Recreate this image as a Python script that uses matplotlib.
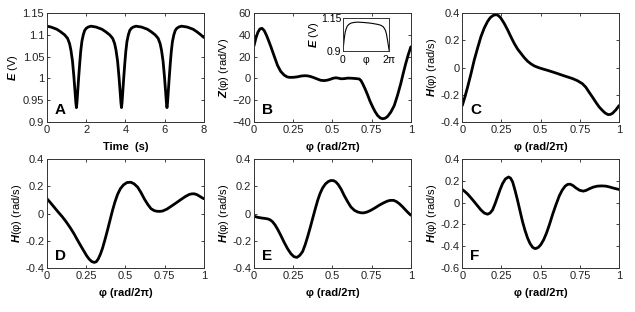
import matplotlib
matplotlib.use("Agg")
import matplotlib.pyplot as plt

plt.rcParams['font.family'] = ['Liberation Sans', 'DejaVu Sans']
plt.rcParams['mathtext.fontset'] = 'custom'
plt.rcParams['mathtext.bf'] = 'Liberation Sans:bold:italic'
plt.rcParams['mathtext.rm'] = 'Liberation Sans'

# A: voltage time series
t_a = [0.00, 0.20, 0.50, 0.70, 0.90, 1.05, 1.15, 1.22, 1.30, 1.37, 1.43, 1.47, 1.50, 1.53, 1.57, 1.62, 1.67, 1.72,
       1.78, 1.85, 1.92, 2.00, 2.10, 2.24,
       2.50, 2.80, 3.00, 3.20, 3.35, 3.45, 3.52, 3.60, 3.67, 3.73, 3.77, 3.80, 3.83, 3.87, 3.92, 3.97, 4.02,
       4.08, 4.15, 4.22, 4.30, 4.40, 4.54,
       4.82, 5.12, 5.32, 5.52, 5.67, 5.77, 5.84, 5.92, 5.99, 6.05, 6.09, 6.12, 6.15, 6.19, 6.24, 6.29, 6.34,
       6.40, 6.47, 6.54, 6.62, 6.72, 6.86,
       7.15, 7.45, 7.65, 7.85, 8.00]
e_a = [1.120, 1.118, 1.113, 1.107, 1.100, 1.092, 1.080, 1.065, 1.040, 1.005, 0.970, 0.945, 0.933, 0.945, 0.972, 1.005, 1.035, 1.062,
       1.085, 1.100, 1.110, 1.115, 1.118, 1.120,
       1.118, 1.113, 1.107, 1.100, 1.092, 1.080, 1.065, 1.040, 1.005, 0.970, 0.945, 0.933, 0.945, 0.972, 1.005, 1.035, 1.062,
       1.085, 1.100, 1.110, 1.115, 1.118, 1.120,
       1.118, 1.113, 1.107, 1.100, 1.092, 1.080, 1.065, 1.040, 1.005, 0.970, 0.945, 0.933, 0.945, 0.972, 1.005, 1.035, 1.062,
       1.085, 1.100, 1.110, 1.115, 1.118, 1.120,
       1.118, 1.113, 1.107, 1.100, 1.094]

# B: phase response curve
phi_b = [0.0, 0.012, 0.025, 0.038, 0.051, 0.065, 0.08, 0.095, 0.108, 0.13, 0.15, 0.17, 0.193, 0.21, 0.225, 0.25,
         0.278, 0.30, 0.32, 0.34, 0.36, 0.38, 0.405, 0.425, 0.448, 0.47, 0.49, 0.505, 0.522, 0.54, 0.554, 0.575,
         0.597, 0.62, 0.639, 0.655, 0.671, 0.682, 0.692, 0.708, 0.724, 0.74, 0.756, 0.772, 0.788, 0.805, 0.82,
         0.835, 0.851, 0.872, 0.894, 0.915, 0.936, 0.952, 0.968, 0.984, 1.0]
z_b = [30, 37, 42.5, 45.5, 46, 44, 39.5, 34, 29, 20, 12, 6.5, 3, 1.5, 1, 1,
       1.5, 2.2, 2.5, 2.4, 1.8, 0.8, -0.6, -1.7, -2, -1.5, -0.6, 0.2, 0.6, 0.2, -0.3, -0.2,
       0.3, 0.2, 0, -0.2, -0.5, -2, -4.6, -9.5, -15, -21, -26, -30.5, -34, -36.3, -37,
       -36.6, -35, -31, -25, -15.5, -4.6, 5, 14, 22, 29]

# B inset: one cycle of E
phi_in = [0.0, 0.015, 0.03, 0.05, 0.07, 0.095, 0.12, 0.15, 0.18, 0.25, 0.32, 0.45, 0.60, 0.75, 0.82, 0.87,
          0.90, 0.92, 0.94, 0.955, 0.97, 0.985, 1.0]
e_in = [0.905, 0.95, 1.0, 1.045, 1.07, 1.09, 1.10, 1.108, 1.113, 1.118, 1.12, 1.117, 1.112, 1.103, 1.096, 1.085,
        1.07, 1.055, 1.03, 1.0, 0.97, 0.935, 0.905]

# C-F: interaction functions
phi_c = [0.0, 0.017, 0.034, 0.055, 0.076, 0.098, 0.119, 0.14, 0.161, 0.178, 0.193, 0.206, 0.219, 0.232, 0.246,
         0.267, 0.289, 0.31, 0.331, 0.352, 0.374, 0.395, 0.416, 0.438, 0.459, 0.485, 0.512, 0.545, 0.575, 0.607,
         0.639, 0.671, 0.703, 0.735, 0.766, 0.788, 0.808, 0.83, 0.851, 0.873, 0.894, 0.912, 0.93, 0.945, 0.958,
         0.979, 1.0]
h_c = [-0.279, -0.215, -0.143, -0.048, 0.054, 0.145, 0.227, 0.29, 0.338, 0.366, 0.38, 0.387, 0.388, 0.38, 0.363,
       0.325, 0.277, 0.226, 0.178, 0.137, 0.104, 0.073, 0.047, 0.027, 0.012, 0.0, -0.01, -0.021, -0.032, -0.044,
       -0.057, -0.069, -0.081, -0.097, -0.119, -0.145, -0.18, -0.217, -0.254, -0.29, -0.316, -0.335, -0.346, -0.344, -0.336,
       -0.311, -0.279]

phi_d = [0.0, 0.022, 0.045, 0.07, 0.098, 0.125, 0.151, 0.173, 0.194, 0.216, 0.237, 0.253, 0.269, 0.285, 0.301,
         0.314, 0.326, 0.34, 0.354, 0.37, 0.386, 0.402, 0.418, 0.434, 0.45, 0.468, 0.488, 0.51, 0.535, 0.556,
         0.578, 0.6, 0.62, 0.642, 0.663, 0.683, 0.701, 0.72, 0.738, 0.765, 0.791, 0.823, 0.855, 0.882, 0.908,
         0.925, 0.94, 0.956, 0.972, 0.986, 1.0]
h_d = [0.109, 0.08, 0.048, 0.013, -0.024, -0.065, -0.109, -0.15, -0.194, -0.238, -0.279, -0.31, -0.335, -0.352, -0.359,
       -0.354, -0.335, -0.3, -0.255, -0.19, -0.121, -0.048, 0.024, 0.088, 0.141, 0.183, 0.211, 0.228, 0.23, 0.218,
       0.194, 0.153, 0.109, 0.068, 0.036, 0.022, 0.017, 0.016, 0.019, 0.033, 0.053, 0.078, 0.104, 0.125, 0.141,
       0.145, 0.145, 0.139, 0.128, 0.118, 0.109]

phi_e = [0.0, 0.022, 0.045, 0.065, 0.087, 0.103, 0.119, 0.135, 0.151, 0.172, 0.193, 0.215, 0.236, 0.255, 0.274,
         0.292, 0.31, 0.326, 0.342, 0.358, 0.374, 0.39, 0.406, 0.421, 0.437, 0.455, 0.473, 0.49, 0.507, 0.522,
         0.537, 0.556, 0.575, 0.597, 0.618, 0.64, 0.66, 0.68, 0.698, 0.72, 0.745, 0.772, 0.798, 0.825, 0.851,
         0.87, 0.89, 0.908, 0.926, 0.947, 0.968, 0.984, 1.0]
h_e = [-0.019, -0.027, -0.032, -0.035, -0.039, -0.046, -0.061, -0.085, -0.116, -0.163, -0.213, -0.26, -0.296, -0.317, -0.322,
       -0.307, -0.279, -0.23, -0.17, -0.105, -0.036, 0.032, 0.097, 0.147, 0.187, 0.217, 0.235, 0.243, 0.242, 0.232,
       0.213, 0.178, 0.133, 0.087, 0.048, 0.024, 0.012, 0.006, 0.005, 0.011, 0.024, 0.042, 0.061, 0.078, 0.092,
       0.097, 0.097, 0.088, 0.073, 0.05, 0.024, 0.005, -0.012]

phi_f = [0.0, 0.017, 0.034, 0.055, 0.076, 0.098, 0.119, 0.14, 0.161, 0.177, 0.193, 0.209, 0.225, 0.241, 0.257,
         0.275, 0.295, 0.308, 0.321, 0.336, 0.352, 0.368, 0.384, 0.4, 0.416, 0.432, 0.448, 0.46, 0.469, 0.485,
         0.501, 0.519, 0.537, 0.556, 0.575, 0.597, 0.618, 0.637, 0.656, 0.672, 0.688, 0.706, 0.724, 0.748, 0.771,
         0.79, 0.809, 0.835, 0.862, 0.888, 0.915, 0.937, 0.958, 0.98, 1.0]
h_f = [0.121, 0.102, 0.079, 0.045, 0.009, -0.03, -0.067, -0.095, -0.106, -0.095, -0.067, -0.01, 0.055, 0.12, 0.176,
       0.218, 0.236, 0.225, 0.191, 0.115, 0.024, -0.075, -0.173, -0.255, -0.324, -0.375, -0.409, -0.42, -0.421, -0.41,
       -0.385, -0.34, -0.279, -0.2, -0.112, -0.02, 0.061, 0.115, 0.152, 0.168, 0.17, 0.157, 0.136, 0.114, 0.106,
       0.113, 0.127, 0.143, 0.152, 0.154, 0.152, 0.145, 0.136, 0.128, 0.121]

phi_ticks = [0, 0.25, 0.5, 0.75, 1]
phi_labels = ['0', '0.25', '0.5', '0.75', '1']
phi_xlabel = 'φ (rad/2π)'
h_ylabel = r'$\mathbf{H}$(φ) (rad/s)'

fig = plt.figure(figsize=(6.35, 3.12), dpi=100)

lefts = [0.074, 0.400, 0.728]
bottoms = [0.609, 0.141]
w, h = 0.247, 0.349


def style(ax):
    ax.tick_params(direction='in', top=True, right=True, length=2.5, width=0.6,
                   labelsize=8, pad=2, colors='#222222')
    for s in ax.spines.values():
        s.set_linewidth(0.7)
        s.set_color('#333333')


def letter(ax, txt):
    ax.text(0.05, 0.05, txt, transform=ax.transAxes, fontsize=11, fontweight='bold',
            ha='left', va='bottom')


def curve(ax, xs, ys, lw=2):
    ax.plot(xs, ys, color='black', lw=lw, solid_joinstyle='round', solid_capstyle='round')


# A
ax = fig.add_axes([lefts[0], bottoms[0], w, h])
curve(ax, t_a, e_a)
ax.set_xlim(0, 8)
ax.set_ylim(0.9, 1.15)
ax.set_xticks([0, 2, 4, 6, 8])
ax.set_yticks([0.9, 0.95, 1, 1.05, 1.1, 1.15])
ax.set_yticklabels(['0.9', '0.95', '1', '1.05', '1.1', '1.15'])
ax.set_xlabel('Time  (s)', fontsize=8, fontweight='bold', labelpad=5)
ax.set_ylabel(r'$\mathbf{E}$ (V)', fontsize=8, labelpad=2)
style(ax)
letter(ax, 'A')

# B
ax = fig.add_axes([lefts[1], bottoms[0], w, h])
curve(ax, phi_b, z_b)
ax.set_xlim(0, 1)
ax.set_ylim(-40, 60)
ax.set_xticks(phi_ticks)
ax.set_xticklabels(phi_labels)
ax.set_yticks([-40, -20, 0, 20, 40, 60])
ax.set_xlabel(phi_xlabel, fontsize=8, fontweight='bold', labelpad=5)
ax.set_ylabel(r'$\mathbf{Z}$(φ) (rad/V)', fontsize=8, labelpad=1)
style(ax)
letter(ax, 'B')

# inset
axi = fig.add_axes([0.540, 0.835, 0.073, 0.107])
curve(axi, phi_in, e_in, lw=0.8)
axi.set_xlim(0, 1)
axi.set_ylim(0.9, 1.15)
axi.set_xticks([0, 0.5, 1])
axi.set_xticklabels(['0', 'φ', '2π'])
axi.set_yticks([0.9, 1.15])
axi.set_yticklabels(['0.9', '1.15'])
axi.set_ylabel(r'$\mathbf{E}$ (V)', fontsize=8, labelpad=0)
axi.tick_params(axis='y', direction='in', length=0, labelsize=7.5, pad=1)
axi.tick_params(axis='x', direction='in', length=0, labelsize=7.5, pad=2.5)
for s in axi.spines.values():
    s.set_linewidth(0.7)
    s.set_color('#333333')

# C-F
panels = [(lefts[2], bottoms[0], phi_c, h_c, (-0.4, 0.4), [-0.4, -0.2, 0, 0.2, 0.4], 'C'),
          (lefts[0], bottoms[1], phi_d, h_d, (-0.4, 0.4), [-0.4, -0.2, 0, 0.2, 0.4], 'D'),
          (lefts[1], bottoms[1], phi_e, h_e, (-0.4, 0.4), [-0.4, -0.2, 0, 0.2, 0.4], 'E'),
          (lefts[2], bottoms[1], phi_f, h_f, (-0.6, 0.4), [-0.6, -0.4, -0.2, 0, 0.2, 0.4], 'F')]

for l, b, xs, ys, ylim, yt, lab in panels:
    ax = fig.add_axes([l, b, w, h])
    curve(ax, xs, ys)
    ax.set_xlim(0, 1)
    ax.set_ylim(*ylim)
    ax.set_xticks(phi_ticks)
    ax.set_xticklabels(phi_labels)
    ax.set_yticks(yt)
    ax.set_yticklabels([('%g' % v) for v in yt])
    ax.set_xlabel(phi_xlabel, fontsize=8, fontweight='bold', labelpad=5)
    ax.set_ylabel(h_ylabel, fontsize=8, labelpad=1)
    style(ax)
    letter(ax, lab)

fig.savefig('out.png', dpi=100)
